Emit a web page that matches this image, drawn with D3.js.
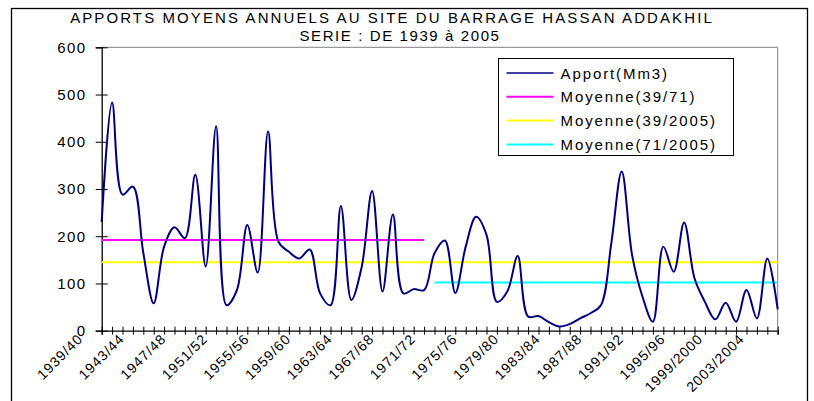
<!DOCTYPE html>
<html>
<head>
<meta charset="utf-8">
<script src="https://cdn.jsdelivr.net/npm/d3@7"></script>
<style>
	body { margin: 0; background: #fff; }
	text { font-family: Arial, "Liberation Sans", sans-serif; fill: #000; }
</style>
</head>
<body>
<div id="chart"></div>
<script>

// 1. Data

const years = [
	"1939/40", "1940/41", "1941/42", "1942/43", "1943/44", "1944/45", "1945/46", "1946/47",
	"1947/48", "1948/49", "1949/50", "1950/51", "1951/52", "1952/53", "1953/54", "1954/55",
	"1955/56", "1956/57", "1957/58", "1958/59", "1959/60", "1960/61", "1961/62", "1962/63",
	"1963/64", "1964/65", "1965/66", "1966/67", "1967/68", "1968/69", "1969/70", "1970/71",
	"1971/72", "1972/73", "1973/74", "1974/75", "1975/76", "1976/77", "1977/78", "1978/79",
	"1979/80", "1980/81", "1981/82", "1982/83", "1983/84", "1984/85", "1985/86", "1986/87",
	"1987/88", "1988/89", "1989/90", "1990/91", "1991/92", "1992/93", "1993/94", "1994/95",
	"1995/96", "1996/97", "1997/98", "1998/99", "1999/2000", "2000/2001", "2001/2002",
	"2002/2003", "2003/2004", "2004/2005"
];

// apport annuel (Mm3)
const apport = [
	230, 483, 288, 305, 165, 58, 178, 219, 196, 330, 136, 433, 54, 86, 224, 123,
	422, 188, 167, 153, 172, 79, 54, 264, 65, 135, 296, 83, 246, 79, 88, 86,
	164, 191, 80, 178, 241, 203, 61, 83, 158, 30, 31, 18, 9, 14, 26, 37,
	54, 185, 337, 160, 72, 19, 178, 125, 229, 111, 61, 24, 59, 19, 86, 26,
	153, 45
];

const tickLabels = years.filter((d, i) => i % 4 === 0);
const yTicks = [0, 100, 200, 300, 400, 500, 600];

// moyennes : [label, valeur, premiere annee, derniere annee]
const moyennes = [
	["Moyenne(39/71)", 192, "1939/40", "1970/71"],
	["Moyenne(39/2005)", 145, "1939/40", "2004/2005"],
	["Moyenne(71/2005)", 102, "1971/72", "2004/2005"]
];
const moyColors = ["#ff00ff", "#ffff00", "#00ffff"];

// 2. Dimensions

const width = 814;
const height = 401;
const plot = { left: 101.7, right: 777.7, top: 47.3, bottom: 330.7 };

const svg = d3.select("#chart")
	.append("svg")
	.attr("width", width)
	.attr("height", height);

// outer frame
svg.append("rect")
	.attr("x", 11.5).attr("y", 8.5)
	.attr("width", 796).attr("height", 430)
	.attr("fill", "#fff")
	.attr("stroke", "#000")
	.attr("stroke-width", 1.3);

// 3. Scales

const x = d3.scalePoint()
	.domain(years)
	.range([plot.left, plot.right]);

const y = d3.scaleLinear()
	.domain([0, 600])
	.range([plot.bottom, plot.top]);

// plot area border (top / right)
svg.append("path")
	.attr("d", `M${plot.left},${plot.top}H${plot.right}V${plot.bottom}`)
	.attr("fill", "none")
	.attr("stroke", "#808080")
	.attr("stroke-width", 1);

// 4. Titles

svg.append("text")
	.attr("x", 392).attr("y", 23)
	.attr("text-anchor", "middle")
	.style("font-size", "15px")
	.style("letter-spacing", "2.1px")
	.text("APPORTS MOYENS ANNUELS AU SITE DU BARRAGE HASSAN ADDAKHIL");

svg.append("text")
	.attr("x", 400).attr("y", 41)
	.attr("text-anchor", "middle")
	.style("font-size", "15px")
	.style("letter-spacing", "1.6px")
	.text("SERIE : DE 1939 à 2005");

// 5. Axes

const yAxis = d3.axisLeft(y)
	.tickValues(yTicks)
	.tickSize(6)
	.tickPadding(9);

const yAxisG = svg.append("g")
	.attr("transform", `translate(${plot.left},0)`)
	.call(yAxis);
yAxisG.select(".domain").attr("stroke", "#000").attr("stroke-width", 1.3);
yAxisG.selectAll(".tick line").attr("x1", 6).attr("stroke", "#000");
yAxisG.selectAll(".tick text")
	.style("font-size", "15px")
	.style("letter-spacing", "1.5px")
	.style("font-family", "Arial, 'Liberation Sans', sans-serif");

const xAxis = d3.axisBottom(x)
	.tickSize(4)
	.tickFormat("");

const xAxisG = svg.append("g")
	.attr("transform", `translate(0,${plot.bottom})`)
	.call(xAxis);
xAxisG.select(".domain").attr("stroke", "#000").attr("stroke-width", 1.3);
xAxisG.selectAll(".tick line").attr("y1", -4).attr("stroke", "#000");

svg.append("g")
	.selectAll("text")
	.data(tickLabels)
	.join("text")
	.attr("text-anchor", "end")
	.attr("transform", d => `translate(${x(d) - 18 - (d.length - 7) * 2},${plot.bottom + 9}) rotate(-45)`)
	.style("font-size", "14px")
	.style("letter-spacing", "1px")
	.text(d => d);

// 6. Lines

moyennes.forEach((m, i) => {
	svg.append("line")
		.attr("x1", x(m[2]))
		.attr("x2", x(m[3]))
		.attr("y1", y(m[1]))
		.attr("y2", y(m[1]))
		.attr("stroke", moyColors[i])
		.attr("stroke-width", 2);
});

const lineGen = d3.line()
	.x((d, i) => x(years[i]))
	.y(d => y(d))
	.curve(d3.curveCatmullRom.alpha(0.5));

svg.append("path")
	.datum(apport)
	.attr("d", lineGen)
	.attr("fill", "none")
	.attr("stroke", "#000080")
	.attr("stroke-width", 2);

// 7. Legend

const legendItems = ["Apport(Mm3)"].concat(moyennes.map(m => m[0]));
const legendColors = ["#000080"].concat(moyColors);

const legend = svg.append("g")
	.attr("transform", "translate(498.5,58.5)");

legend.append("rect")
	.attr("width", 235)
	.attr("height", 97)
	.attr("fill", "#fff")
	.attr("stroke", "#000")
	.attr("stroke-width", 1);

const rows = legend.selectAll("g")
	.data(legendItems)
	.join("g")
	.attr("transform", (d, i) => `translate(0,${14.5 + i * 23.8})`);

rows.append("line")
	.attr("x1", 8).attr("x2", 55)
	.attr("stroke", (d, i) => legendColors[i])
	.attr("stroke-width", (d, i) => i === 0 ? 1.5 : 2);

rows.append("text")
	.attr("x", 62)
	.attr("y", 5.5)
	.style("font-size", "15px")
	.style("letter-spacing", "1.9px")
	.text(d => d);

</script>
</body>
</html>
